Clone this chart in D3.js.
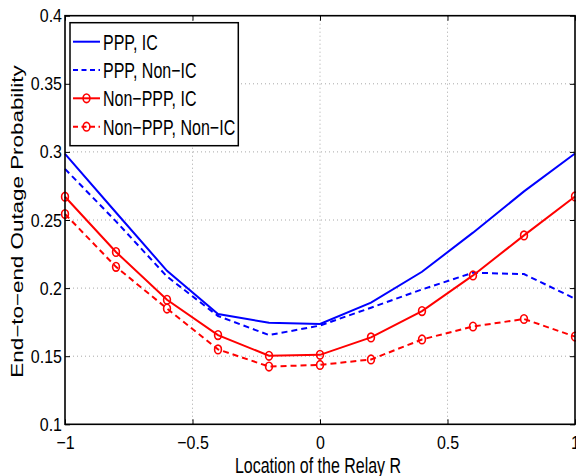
<!DOCTYPE html>
<html><head><meta charset="utf-8">
<script src="https://cdn.jsdelivr.net/npm/d3@7"></script>
<style>body{margin:0;background:#fff}svg{display:block}text{font-family:"Liberation Sans",Arial,sans-serif}</style>
</head><body>
<svg id="c" width="576" height="476"></svg>
<script>
const xs = [-1,-0.8,-0.6,-0.4,-0.2,0,0.2,0.4,0.6,0.8,1];
const pppIC = [0.2985,0.2555,0.2127,0.181,0.1745,0.1737,0.1893,0.212,0.2407,0.271,0.2988];
const pppNonIC = [0.2875,0.249,0.2085,0.1795,0.1655,0.1725,0.1856,0.199,0.2113,0.2103,0.1922];
const nonPPPIC = [0.2671,0.2265,0.1914,0.1655,0.1503,0.151,0.1638,0.1831,0.2093,0.2387,0.2673];
const nonPPPNonIC = [0.2544,0.2156,0.185,0.155,0.1424,0.1436,0.1476,0.1623,0.1718,0.1773,0.1644];
const xTicks = [-1,-0.5,0,0.5,1];
const xTickLabels = ["\u22121","\u22120.5","0","0.5","1"];
const yTicks = [0.1,0.15,0.2,0.25,0.3,0.35,0.4];
const yTickLabels = ["0.1","0.15","0.2","0.25","0.3","0.35","0.4"];
const seriesNames = ["PPP, IC","PPP, Non\u2212IC","Non\u2212PPP, IC","Non\u2212PPP, Non\u2212IC"];
const xLabel = "Location of the Relay R";
const yLabel = "End\u2212to\u2212end Outage Probability";

const L=65,R=575,T=15.7,B=424.3;
const svg=d3.select("#c");
const x=d3.scaleLinear().domain([-1,1]).range([L,R]);
const y=d3.scaleLinear().domain([0.1,0.4]).range([B,T]);

// grid
const g=svg.append("g");
xTicks.slice(1,-1).forEach(v=>g.append("line").attr("x1",x(v)).attr("x2",x(v)).attr("y1",T).attr("y2",B)
  .attr("stroke","#a8a8a8").attr("stroke-width",1).attr("stroke-dasharray","1,3"));
yTicks.slice(1,-1).forEach(v=>g.append("line").attr("x1",L).attr("x2",R).attr("y1",y(v)).attr("y2",y(v))
  .attr("stroke","#a8a8a8").attr("stroke-width",1).attr("stroke-dasharray","1,3"));

// axes via d3
const ax=svg.append("g").attr("transform",`translate(0,${B})`)
  .call(d3.axisBottom(x).tickValues(xTicks).tickFormat((d,i)=>xTickLabels[i]).tickSizeInner(-5).tickSizeOuter(0).tickPadding(0));
ax.select(".domain").remove();
ax.selectAll("line").attr("stroke","#000");
ax.selectAll("text").attr("font-size",16).attr("fill","#000").attr("dy",null).attr("y",0)
  .attr("transform","translate(0,25) scale(1,1.15)");
const axT=svg.append("g").attr("transform",`translate(0,${T})`)
  .call(d3.axisTop(x).tickValues(xTicks).tickFormat("").tickSizeInner(-5).tickSizeOuter(0));
axT.select(".domain").remove();axT.selectAll("line").attr("stroke","#000");
const ay=svg.append("g").attr("transform",`translate(${L},0)`)
  .call(d3.axisLeft(y).tickValues(yTicks).tickFormat((d,i)=>yTickLabels[i]).tickSizeInner(-5).tickSizeOuter(0).tickPadding(0));
ay.select(".domain").remove();ay.selectAll("line").attr("stroke","#000");
ay.selectAll("text").attr("font-size",16).attr("fill","#000").attr("x",0).attr("dy",null)
  .attr("transform","translate(-3,6) scale(1,1.15)");
const ayR=svg.append("g").attr("transform",`translate(${R},0)`)
  .call(d3.axisRight(y).tickValues(yTicks).tickFormat("").tickSizeInner(-5).tickSizeOuter(0));
ayR.select(".domain").remove();ayR.selectAll("line").attr("stroke","#000");

// series
const line=d3.line().x((d,i)=>x(xs[i])).y(d=>y(d));
const series=[
 {v:pppIC,c:"#0000ff",dash:null,m:false,w:2},
 {v:pppNonIC,c:"#0000ff",dash:"6,4",m:false,w:2},
 {v:nonPPPIC,c:"#ff0000",dash:null,m:true,w:2},
 {v:nonPPPNonIC,c:"#ff0000",dash:"6,4",m:true,w:2}
];
series.forEach(s=>{
  svg.append("path").attr("d",line(s.v)).attr("fill","none").attr("stroke",s.c)
    .attr("stroke-width",s.w).attr("stroke-dasharray",s.dash);
  if(s.m) svg.append("g").selectAll("ellipse").data(s.v).join("ellipse")
    .attr("cx",(d,i)=>x(xs[i])).attr("cy",d=>y(d)).attr("rx",3.4).attr("ry",4.3)
    .attr("fill","none").attr("stroke",s.c).attr("stroke-width",1.6);
});

// frame
svg.append("rect").attr("x",L).attr("y",T).attr("width",R-L).attr("height",B-T)
  .attr("fill","none").attr("stroke","#000").attr("stroke-width",1.6);

// legend
const lg=svg.append("g");
lg.append("rect").attr("x",70).attr("y",22.7).attr("width",168.3).attr("height",123)
  .attr("fill","#fff").attr("stroke","#000").attr("stroke-width",1.5);
const ly=[41.7,70,98.3,126.7];
series.forEach((s,i)=>{
  lg.append("line").attr("x1",73).attr("x2",100).attr("y1",ly[i]).attr("y2",ly[i])
    .attr("stroke",s.c).attr("stroke-width",s.w).attr("stroke-dasharray",s.dash?"5,3.5":null);
  if(s.m) lg.append("ellipse").attr("cx",86.5).attr("cy",ly[i]).attr("rx",3.4).attr("ry",4.3)
    .attr("fill","none").attr("stroke",s.c).attr("stroke-width",1.6);
  lg.append("text").attr("transform",`translate(103,${ly[i]+8}) scale(1,1.35)`)
    .attr("font-size",16).attr("fill","#000").text(seriesNames[i]);
});

// axis labels
svg.append("text").attr("text-anchor","middle").attr("font-size",16)
  .attr("transform",`translate(318,473) scale(1,1.4)`).text(xLabel);
svg.append("text").attr("text-anchor","middle").attr("font-size",16)
  .attr("transform",`translate(23,221.5) rotate(-90) scale(1.4,1)`).text(yLabel);
</script>
</body></html>
